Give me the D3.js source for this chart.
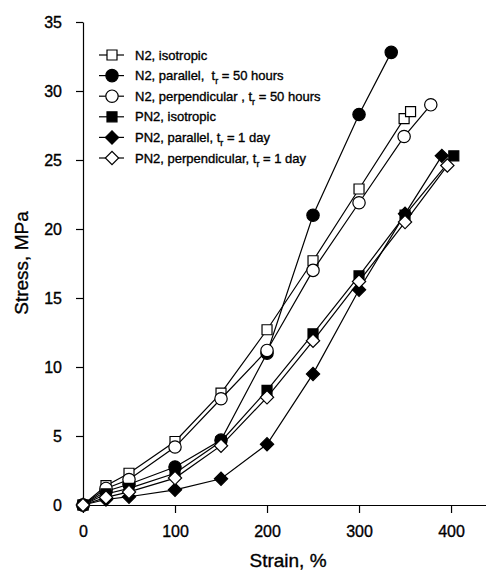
<!DOCTYPE html>
<html>
<head>
<meta charset="utf-8">
<script src="https://cdn.jsdelivr.net/npm/d3@7"></script>
<style>
  body { margin: 0; background: #fff; }
  svg { display: block; font-family: "Liberation Sans", Arial, sans-serif; }
  text { stroke: #000; stroke-width: 0.35px; }
</style>
</head>
<body>
<svg id="chart"></svg>
<script>
const xTicks = [0, 100, 200, 300, 400];
const yTicks = [0, 5, 10, 15, 20, 25, 30, 35];

const n2Iso = [[0,0],[25,1.4],[50,2.3],[100,4.6],[150,8.1],[200,12.7],[250,17.7],[300,22.9],[349,28.0],[356,28.5]];
const n2Par = [[0,0],[25,1.0],[50,1.5],[100,2.75],[150,4.7],[200,11.0],[250,21.0],[300,28.3],[335,32.8]];
const n2Perp = [[0,0],[25,1.2],[50,1.85],[100,4.2],[150,7.7],[200,11.2],[250,17.0],[300,21.9],[349,26.7],[378,29.0]];
const pn2Iso = [[0,0],[25,0.8],[50,1.2],[100,2.3],[150,4.6],[200,8.3],[250,12.4],[300,16.6],[350,21.0],[403,25.3]];
const pn2Par = [[0,0],[25,0.4],[50,0.6],[100,1.1],[150,1.9],[200,4.4],[250,9.5],[300,15.6],[350,21.1],[390,25.3]];
const pn2Perp = [[0,0],[25,0.55],[50,0.95],[100,1.95],[150,4.3],[200,7.8],[250,11.9],[300,16.2],[350,20.5],[396,24.6]];

const series = [
  {data: n2Iso, shape: "square", fill: "#fff", label: ["N2, isotropic"]},
  {data: n2Par, shape: "circle", fill: "#000", label: ["N2, parallel,  t", "r", " = 50 hours"]},
  {data: n2Perp, shape: "circle", fill: "#fff", label: ["N2, perpendicular , t", "r", " = 50 hours"]},
  {data: pn2Iso, shape: "square", fill: "#000", label: ["PN2, isotropic"]},
  {data: pn2Par, shape: "diamond", fill: "#000", label: ["PN2, parallel, t", "r", " = 1 day"]},
  {data: pn2Perp, shape: "diamond", fill: "#fff", label: ["PN2, perpendicular, t", "r", " = 1 day"]}
];

const width = 486, height = 572;
const svg = d3.select("#chart").attr("width", width).attr("height", height);

const x = d3.scaleLinear().domain([0, 438]).range([83, 486]);
const y = d3.scaleLinear().domain([0, 35]).range([505, 22]);

const symbolFor = {
  square: d3.symbol().type(d3.symbolSquare).size(100),
  circle: d3.symbol().type(d3.symbolCircle).size(120),
  diamond: d3.symbol().type(d3.symbolSquare).size(88)
};
function drawMarker(g, s, cx, cy) {
  const p = g.append("path")
      .attr("d", symbolFor[s.shape]())
      .attr("fill", s.fill)
      .attr("stroke", "#000")
      .attr("stroke-width", 1.2);
  if (s.shape === "diamond") p.attr("transform", `translate(${cx},${cy}) rotate(45)`);
  else p.attr("transform", `translate(${cx},${cy})`);
}

// axes
const xAxis = svg.append("g")
    .attr("transform", `translate(0,${y(0)})`)
    .call(d3.axisBottom(x).tickValues(xTicks).tickSize(8).tickPadding(13).tickSizeOuter(0));
const yAxis = svg.append("g")
    .attr("transform", `translate(${x(0)},0)`)
    .call(d3.axisLeft(y).tickValues(yTicks).tickSize(7).tickPadding(14).tickSizeOuter(0));
[xAxis, yAxis].forEach(a => {
  a.selectAll("path, line").attr("stroke", "#000").attr("stroke-width", 1.2);
  a.selectAll("text").attr("fill", "#000").attr("font-size", 16)
      .attr("font-family", "Liberation Sans, Arial, sans-serif");
});

svg.append("text")
    .attr("x", 288).attr("y", 567)
    .attr("text-anchor", "middle")
    .attr("font-size", 19)
    .text("Strain, %");

svg.append("text")
    .attr("transform", "translate(28,263) rotate(-90)")
    .attr("text-anchor", "middle")
    .attr("font-size", 19)
    .text("Stress, MPa");

// data
const line = d3.line().x(d => x(d[0])).y(d => y(d[1]));
series.forEach(s => {
  const g = svg.append("g");
  g.append("path")
      .attr("d", line(s.data))
      .attr("fill", "none")
      .attr("stroke", "#000")
      .attr("stroke-width", 1.2);
  s.data.forEach(d => drawMarker(g, s, x(d[0]), y(d[1])));
});

// legend
const legend = svg.append("g");
series.forEach((s, i) => {
  const ly = 55 + i * 20.6;
  const row = legend.append("g");
  row.append("line")
      .attr("x1", 99).attr("x2", 124)
      .attr("y1", ly).attr("y2", ly)
      .attr("stroke", "#000").attr("stroke-width", 1.2);
  drawMarker(row, s, 112, ly);
  const t = row.append("text")
      .attr("x", 135).attr("y", ly + 4.5)
      .attr("font-size", 13)
      .attr("xml:space", "preserve")
      .style("white-space", "pre");
  t.append("tspan").text(s.label[0]);
  if (s.label.length > 1) {
    t.append("tspan").attr("font-size", 9).attr("dy", 4).text(s.label[1]);
    t.append("tspan").attr("dy", -4).text(s.label[2]);
  }
});
</script>
</body>
</html>
